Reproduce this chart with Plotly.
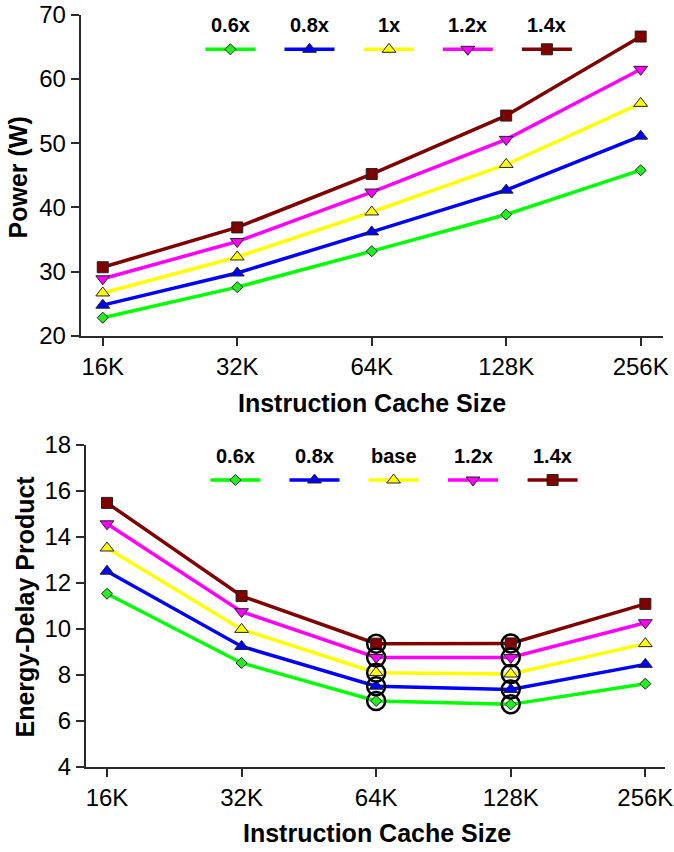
import plotly.graph_objects as go

# ---------------- data ----------------
cache_sizes = ["16K", "32K", "64K", "128K", "256K"]

power_labels = ["0.6x", "0.8x", "1x", "1.2x", "1.4x"]
power_06 = [22.85, 27.6, 33.2, 38.9, 45.8]
power_08 = [24.8, 29.8, 36.2, 42.7, 51.1]
power_10 = [26.7, 32.3, 39.3, 46.7, 56.2]
power_12 = [28.9, 34.7, 42.4, 50.6, 61.5]
power_14 = [30.7, 36.9, 45.2, 54.3, 66.6]

edp_labels = ["0.6x", "0.8x", "base", "1.2x", "1.4x"]
edp_06 = [11.52, 8.51, 6.86, 6.71, 7.61]
edp_08 = [12.5, 9.23, 7.5, 7.36, 8.45]
edp_10 = [13.51, 9.97, 8.09, 8.03, 9.35]
edp_12 = [14.56, 10.74, 8.75, 8.75, 10.26]
edp_14 = [15.47, 11.42, 9.35, 9.36, 11.08]

highlight_sizes = ["64K", "128K"]

power_ticks = [20, 30, 40, 50, 60, 70]
edp_ticks = [4, 6, 8, 10, 12, 14, 16, 18]

# ---------------- styles ----------------
W, H = 674, 852
line_colors = ["#00ff00", "#0000ff", "#ffff00", "#ff00ff", "#800000"]
marker_fill = ["#22ee22", "#0000ff", "#ffff00", "#ff00ff", "#800000"]
symbols = ["diamond", "triangle-up", "triangle-up", "triangle-down", "square"]
msizes = [8.5, 12, 12, 12, 11]

FAMILY = "Liberation Sans, Arial, sans-serif"
TICK_FONT = dict(family=FAMILY, size=24, color="black")
TITLE_FONT = dict(family=FAMILY, size=25, color="black")
LEG_FONT = dict(family=FAMILY, size=20, color="black")

fig = go.Figure()

power_series = [power_06, power_08, power_10, power_12, power_14]
edp_series = [edp_06, edp_08, edp_10, edp_12, edp_14]

for i, vals in enumerate(power_series):
    fig.add_trace(go.Scatter(
        x=cache_sizes, y=vals, mode="lines+markers", xaxis="x", yaxis="y",
        line=dict(color=line_colors[i], width=3.5),
        marker=dict(symbol=symbols[i], size=msizes[i], color=marker_fill[i],
                    line=dict(color="#222", width=1)),
        showlegend=False))

for i, vals in enumerate(edp_series):
    fig.add_trace(go.Scatter(
        x=cache_sizes, y=vals, mode="lines+markers", xaxis="x2", yaxis="y2",
        line=dict(color=line_colors[i], width=3.5),
        marker=dict(symbol=symbols[i], size=msizes[i], color=marker_fill[i],
                    line=dict(color="#222", width=1)),
        showlegend=False))

# highlighted optimum points (open circles)
for i, vals in enumerate(edp_series):
    hx = [c for c in cache_sizes if c in highlight_sizes]
    hy = [v for c, v in zip(cache_sizes, vals) if c in highlight_sizes]
    fig.add_trace(go.Scatter(
        x=hx, y=hy, mode="markers", xaxis="x2", yaxis="y2",
        marker=dict(symbol="circle-open", size=18, color="black",
                    line=dict(color="black", width=2.5)),
        showlegend=False))

# ---------------- custom legends (pixel overlay axis) ----------------
leg_top = dict(centers=[230.4, 309.5, 389.0, 467.8, 546.9], text_y=25, line_y=49.3,
               labels=power_labels)
leg_bot = dict(centers=[235.4, 314.5, 393.6, 473.0, 552.6], text_y=456, line_y=480,
               labels=edp_labels)
HALF = 25

for leg in (leg_top, leg_bot):
    for i, cx in enumerate(leg["centers"]):
        fig.add_trace(go.Scatter(
            x=[cx - HALF, cx + HALF], y=[leg["line_y"]] * 2, mode="lines",
            xaxis="x3", yaxis="y3", line=dict(color=line_colors[i], width=3.5),
            showlegend=False, hoverinfo="skip"))
        fig.add_trace(go.Scatter(
            x=[cx], y=[leg["line_y"]], mode="markers", xaxis="x3", yaxis="y3",
            marker=dict(symbol=symbols[i], size=msizes[i], color=marker_fill[i],
                        line=dict(color="#222", width=1)),
            showlegend=False, hoverinfo="skip"))
        fig.add_annotation(x=cx / W, y=1 - leg["text_y"] / H, xref="paper", yref="paper",
                           text="<b>%s</b>" % leg["labels"][i], showarrow=False,
                           font=LEG_FONT, xanchor="center", yanchor="middle")

# ---------------- axes ----------------
axis_common = dict(showgrid=False, zeroline=False, showline=True, linecolor="#2a2a2a",
                   linewidth=2, ticks="outside", tickcolor="#2a2a2a", tickwidth=1.5,
                   tickfont=TICK_FONT, automargin=False)

fig.update_layout(
    width=W, height=H, paper_bgcolor="white", plot_bgcolor="rgba(0,0,0,0)",
    margin=dict(l=0, r=0, t=0, b=0),
    xaxis=dict(domain=[80.7 / W, 663 / W], anchor="y", type="category",
               categoryorder="array", categoryarray=cache_sizes,
               range=[-0.164, 4.166], ticklen=8, **axis_common),
    yaxis=dict(domain=[1 - 336 / H, 1 - 14.7 / H], anchor="x", range=[20, 70],
               tickvals=power_ticks, ticklen=8, **axis_common),
    xaxis2=dict(domain=[86 / W, 665 / W], anchor="y2", type="category",
                categoryorder="array", categoryarray=cache_sizes,
                range=[-0.156, 4.146], ticklen=8, **axis_common),
    yaxis2=dict(domain=[1 - 766.7 / H, 1 - 444.7 / H], anchor="x2", range=[4, 18],
                tickvals=edp_ticks, ticklen=8, **axis_common),
    xaxis3=dict(domain=[0, 1], range=[0, W], visible=False, fixedrange=True),
    yaxis3=dict(domain=[0, 1], range=[H, 0], visible=False, fixedrange=True, anchor="x3"),
)

# axis titles as annotations
fig.add_annotation(x=372 / W, y=1 - 403 / H, xref="paper", yref="paper",
                   text="<b>Instruction Cache Size</b>", showarrow=False, font=TITLE_FONT,
                   xanchor="center", yanchor="middle")
fig.add_annotation(x=377 / W, y=1 - 833 / H, xref="paper", yref="paper",
                   text="<b>Instruction Cache Size</b>", showarrow=False, font=TITLE_FONT,
                   xanchor="center", yanchor="middle")
fig.add_annotation(x=17 / W, y=1 - 177.5 / H, xref="paper", yref="paper",
                   text="<b>Power (W)</b>", showarrow=False, font=TITLE_FONT, textangle=-90,
                   xanchor="center", yanchor="middle")
fig.add_annotation(x=24 / W, y=1 - 606.5 / H, xref="paper", yref="paper",
                   text="<b>Energy-Delay Product</b>", showarrow=False, font=TITLE_FONT,
                   textangle=-90, xanchor="center", yanchor="middle")

fig.write_html("out.html", config={"displayModeBar": False},
               post_script="document.body.style.margin='0px';")
